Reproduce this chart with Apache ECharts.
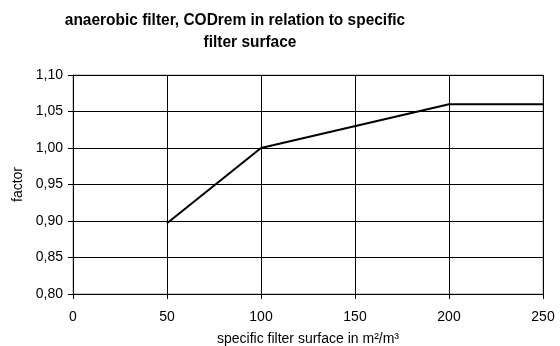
<!DOCTYPE html>
<html>
<head>
<meta charset="utf-8">
<script src="https://cdn.jsdelivr.net/npm/echarts@6/dist/echarts.min.js"></script>
<style>
  html, body { margin: 0; padding: 0; background: #fff; }
  #chart { width: 560px; height: 346px; }
</style>
</head>
<body>
<div id="chart"></div>
<script>
// Specific filter surface (m²/m³) and the COD removal factor at each point
const surface = [50, 100, 200, 250];
const factor = [0.897, 1.00, 1.06, 1.06];
const xTicks = [0, 50, 100, 150, 200, 250];
const yTicks = [0.80, 0.85, 0.90, 0.95, 1.00, 1.05, 1.10];
const titleLines = ['anaerobic filter, CODrem in relation to specific', 'filter surface'];

const chart = echarts.init(document.getElementById('chart'), null, { renderer: 'canvas' });
const labelFont = { fontFamily: 'Liberation Sans', fontSize: 14, color: '#000' };

// Condensed bold heading, drawn as two centred text lines
function headingLine(text, cx, baseline) {
  return {
    type: 'text',
    x: cx, y: baseline,
    scaleX: 0.91,
    style: {
      text: text,
      x: 0, y: 0,
      textAlign: 'center',
      textVerticalAlign: 'bottom',
      font: 'bold 17px "Liberation Sans"',
      fill: '#000'
    }
  };
}

chart.setOption({
  backgroundColor: '#fff',
  animation: false,
  graphic: [
    headingLine(titleLines[0], 235, 29),
    headingLine(titleLines[1], 250, 51)
  ],
  grid: {
    left: 73, right: 17, top: 75, bottom: 52,
    outerBoundsMode: 'none', containLabel: false,
    show: true, borderColor: '#999', borderWidth: 1
  },
  xAxis: {
    type: 'value',
    min: xTicks[0], max: xTicks[xTicks.length - 1], interval: 50,
    name: 'specific filter surface in m²/m³',
    nameLocation: 'middle', nameGap: 38,
    nameTextStyle: labelFont,
    axisLine: { lineStyle: { color: '#000', width: 1 } },
    axisTick: { show: true, length: 5, lineStyle: { color: '#000' } },
    axisLabel: Object.assign({ margin: 16, formatter: v => String(v) }, labelFont),
    splitLine: { show: true, lineStyle: { color: '#000', width: 1 } }
  },
  yAxis: {
    type: 'value',
    min: yTicks[0], max: yTicks[yTicks.length - 1], interval: 0.05,
    name: 'factor',
    nameLocation: 'middle', nameGap: 46,
    nameTextStyle: labelFont,
    axisLine: { show: true, lineStyle: { color: '#000', width: 1 } },
    axisTick: { show: true, length: 5, lineStyle: { color: '#000' } },
    axisLabel: Object.assign({ margin: 10, formatter: v => v.toFixed(2).replace('.', ',') }, labelFont),
    splitLine: { show: true, lineStyle: { color: '#000', width: 1 } }
  },
  series: [{
    type: 'line',
    data: surface.map((s, i) => [s, factor[i]]),
    symbol: 'none',
    lineStyle: { color: '#000', width: 2 }
  }]
});
</script>
</body>
</html>
